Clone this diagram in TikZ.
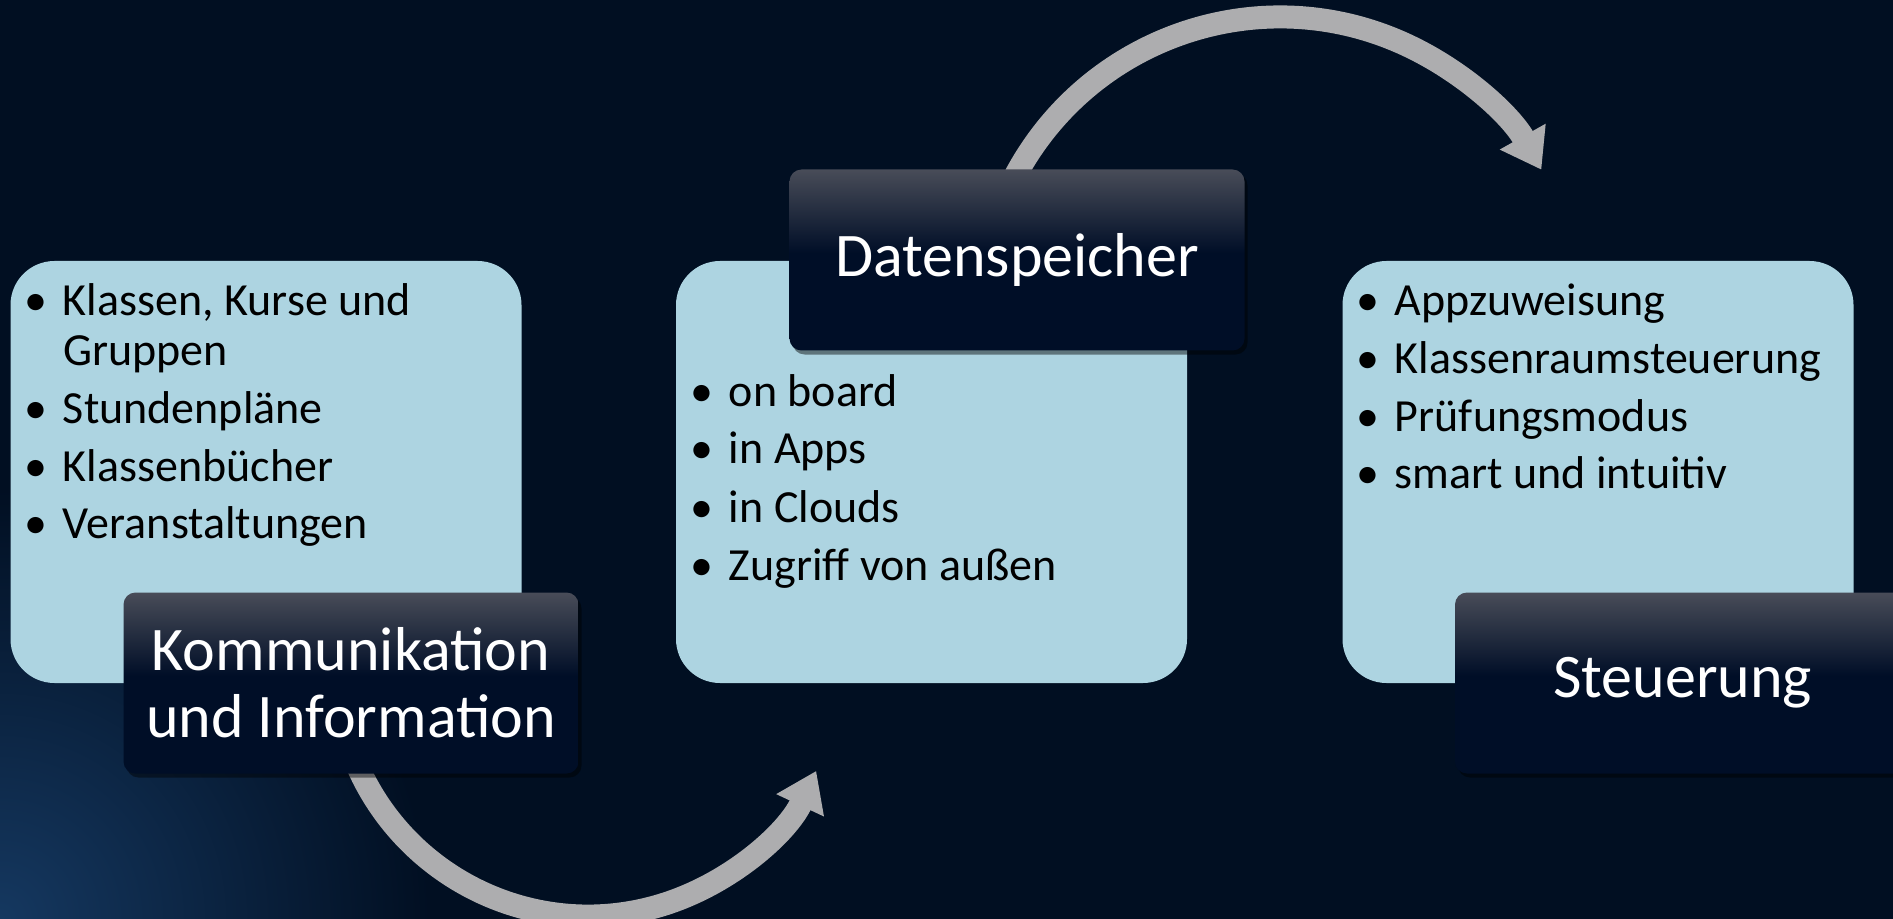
\documentclass[tikz,border=0pt]{standalone}
\usepackage{fontspec}
\setmainfont{Carlito}
\usetikzlibrary{arrows.meta,shadows}
\definecolor{bgnavy}{HTML}{010F22}
\definecolor{bglight}{HTML}{153860}
\definecolor{boxblue}{HTML}{ADD4E1}
\definecolor{lblgray}{HTML}{484C58}
\definecolor{lblnavy}{HTML}{000E27}
\definecolor{arrowgray}{HTML}{ADADAF}
\pgfdeclareverticalshading{lblshade}{100bp}{color(0bp)=(lblnavy); color(25bp)=(lblnavy); color(52bp)=(lblnavy); color(75bp)=(lblgray); color(100bp)=(lblgray)}
\newcommand{\bul}{\llap{\textbullet\hspace{8pt}}}
\tikzset{
  infobox/.style={fill=boxblue, rounded corners=22pt, minimum width=255.5pt, minimum height=211pt, inner sep=0pt, outer sep=0pt},
  labelbox/.style={shade, shading=lblshade, rounded corners=6pt, minimum width=227.5pt, minimum height=90.5pt, inner sep=0pt, outer sep=0pt, text=white, font=\fontsize{31}{33.5}\selectfont, align=center, drop shadow={fill=black, opacity=0.45, shadow xshift=1.5pt, shadow yshift=-2pt}},
  itemline/.style={anchor=base west, inner sep=0pt, outer sep=0pt, font=\fontsize{23}{29}\selectfont, text=black},
  bigarrow/.style={draw=arrowgray, line width=11.5pt, -{Triangle[length=19pt,width=25pt]}},
}
\begin{document}
\begin{tikzpicture}[x=0.5pt,y=-0.5pt]
\clip (0,0) rectangle (1893,919);
\fill[bgnavy] (0,0) rectangle (1893,919);
\shade[inner color=bglight, outer color=bgnavy] (0,919) circle (430);

% arrows
\coordinate (a1start) at ({588+252*cos(160)},{664+252*sin(160)});
\coordinate (a2start) at ({1280+300*cos(205)},{317+300*sin(205)});
\draw[bigarrow] (a1start) arc[start angle=160, end angle=25.1, radius=252];
\draw[bigarrow] (a2start) arc[start angle=205, end angle=330.6, radius=300];

% content boxes
\node[infobox] (box1) at (266,472) {};
\node[infobox] (box2) at (931.5,472) {};
\node[infobox] (box3) at (1598,472) {};

% box 1 text
\node[itemline] (b1a) at (63,315) {\bul Klassen, Kurse und};
\node[itemline] (b1b) at (63,365) {Gruppen};
\node[itemline] (b1c) at (63,423) {\bul Stundenpläne};
\node[itemline] (b1d) at (63,481) {\bul Klassenbücher};
\node[itemline] (b1e) at (63,538) {\bul Veranstaltungen};

% box 2 text
\node[itemline] (b2a) at (729,406) {\bul on board};
\node[itemline] (b2b) at (729,463) {\bul in Apps};
\node[itemline] (b2c) at (729,522) {\bul in Clouds};
\node[itemline] (b2d) at (729,580) {\bul Zugriff von außen};

% box 3 text
\node[itemline] (b3a) at (1395,316) {\bul Appzuweisung};
\node[itemline] (b3b) at (1395,373) {\bul Klassenraumsteuerung};
\node[itemline] (b3c) at (1395,431) {\bul Prüfungsmodus};
\node[itemline] (b3d) at (1395,488) {\bul smart und intuitiv};

% labels
\node[labelbox] (lbl1) at (351,683) {Kommunikation\\und Information};
\node[labelbox] (lbl2) at (1017,260) {Datenspeicher};
\node[labelbox] (lbl3) at (1682.5,683) {Steuerung};
\end{tikzpicture}
\end{document}
